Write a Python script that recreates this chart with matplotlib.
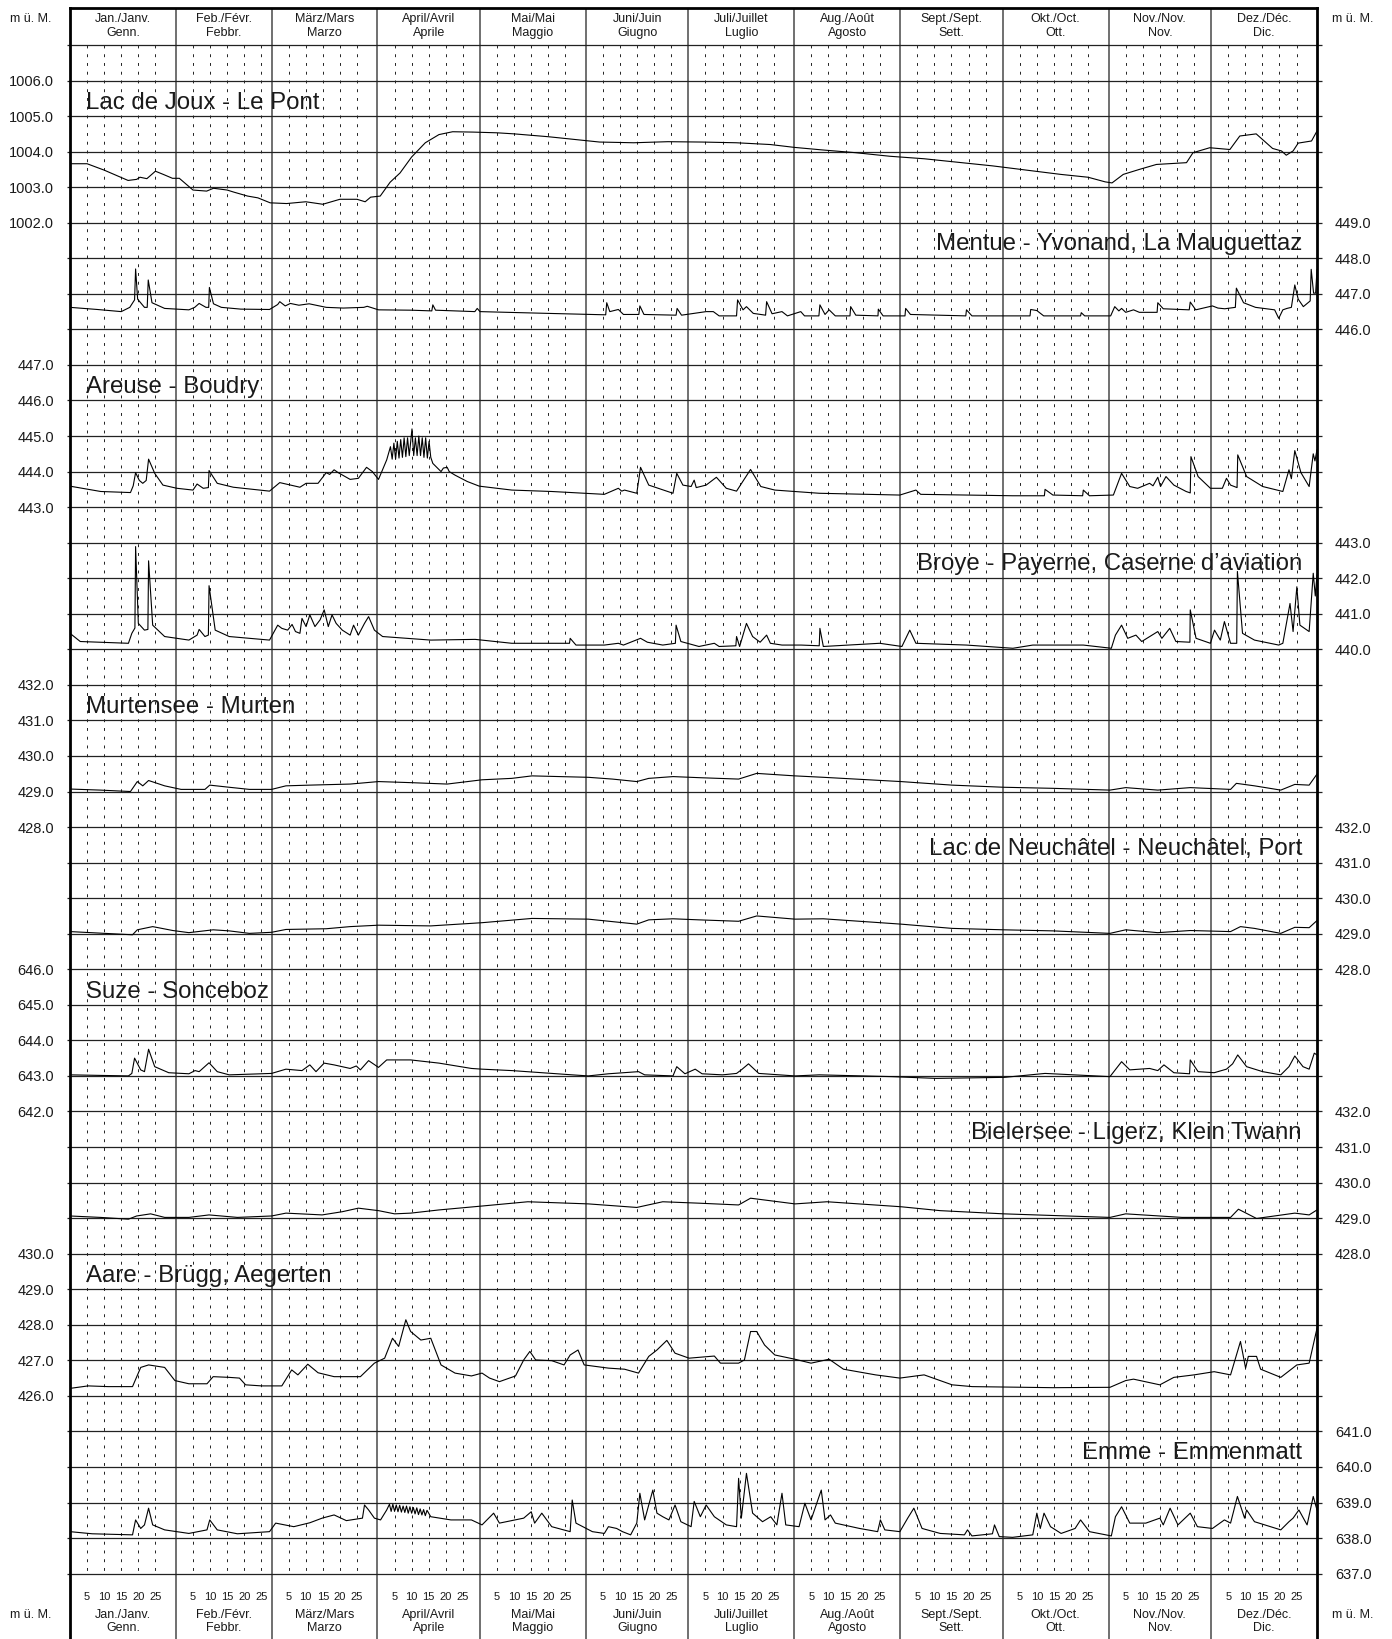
import matplotlib.pyplot as plt

plt.rcParams['font.family'] = ['Liberation Sans', 'DejaVu Sans']

# ---- Daten (Tag im Jahr, Pegel m ü. M.) ----
month_de_fr = ['Jan./Janv.', 'Feb./Févr.', 'März/Mars', 'April/Avril', 'Mai/Mai', 'Juni/Juin',
               'Juli/Juillet', 'Aug./Août', 'Sept./Sept.', 'Okt./Oct.', 'Nov./Nov.', 'Dez./Déc.']
month_it = ['Genn.', 'Febbr.', 'Marzo', 'Aprile', 'Maggio', 'Giugno',
            'Luglio', 'Agosto', 'Sett.', 'Ott.', 'Nov.', 'Dic.']
month_len = [31, 28, 31, 30, 31, 30, 31, 31, 30, 31, 30, 31]
day_ticks = [5, 10, 15, 20, 25]

joux_day = [0, 5, 10, 17, 19.5, 20.5, 22.5, 25, 27.3, 30, 32, 36, 40, 42, 46, 48, 52, 55, 58.6, 63.4,
            69, 74, 79, 84, 86.4, 88, 90.8, 93.7, 96.6, 100, 104, 108, 112, 118, 125, 130, 140, 150,
            155, 165, 175, 185, 195, 205, 212, 220, 230, 240, 250, 260, 270, 280, 290, 298, 303, 305,
            308.3, 313, 318, 326.8, 328.7, 333.6, 339.5, 342.4, 347.2, 352, 354.6, 356, 358, 359.5,
            363.4, 365]
joux_lvl = [1003.66, 1003.66, 1003.48, 1003.19, 1003.22, 1003.28, 1003.24, 1003.45, 1003.36, 1003.25,
            1003.25, 1002.92, 1002.89, 1002.97, 1002.92, 1002.86, 1002.75, 1002.7, 1002.56, 1002.54,
            1002.59, 1002.52, 1002.66, 1002.66, 1002.59, 1002.72, 1002.75, 1003.14, 1003.4, 1003.85,
            1004.25, 1004.48, 1004.56, 1004.55, 1004.53, 1004.5, 1004.42, 1004.32, 1004.27, 1004.25,
            1004.28, 1004.27, 1004.25, 1004.2, 1004.12, 1004.05, 1003.97, 1003.87, 1003.8, 1003.7,
            1003.6, 1003.48, 1003.36, 1003.28, 1003.15, 1003.12, 1003.36, 1003.5, 1003.64, 1003.69,
            1003.97, 1004.11, 1004.06, 1004.44, 1004.5, 1004.09, 1004.02, 1003.9, 1004.02, 1004.24,
            1004.3, 1004.58]

mentue_day = [0, 8, 15, 17.5, 18.9, 19.2, 19.8, 21.8, 22.6, 22.9, 24, 27.7, 34.8, 36.5, 37.8, 39.8,
              40.6, 40.8, 42, 44.3, 50, 58.4, 60.8, 61.4, 63, 64.5, 67, 70, 75, 80, 86, 87, 90.3, 100,
              105.9, 106.2, 107, 118.5, 119.2, 120, 140, 156.8, 157.1, 158, 160.5, 162, 166.5, 166.8,
              168, 177.4, 177.7, 179, 186.2, 188.3, 190, 195.1, 195.4, 197, 198, 200, 203.6, 203.9,
              205.5, 208.4, 210, 213.9, 215, 219.2, 219.5, 221, 222.2, 224, 228.3, 228.5, 230, 236.5,
              236.6, 238, 244.4, 244.6, 246, 262.2, 262.4, 264, 281, 281.2, 283, 285, 295.8, 296, 297,
              304.6, 305.8, 307, 307.8, 309, 311.3, 313, 318.2, 318.4, 320, 327.6, 327.9, 329.5, 334.4,
              336, 338, 341.1, 341.4, 343.5, 347, 352.6, 353.8, 355, 356.2, 357.5, 358.5, 359.5, 361,
              363, 363.3, 364, 364.6, 365]
mentue_lvl = [446.62, 446.56, 446.50, 446.62, 446.83, 447.70, 446.85, 446.62, 446.62, 447.39, 446.75,
              446.59, 446.55, 446.62, 446.73, 446.62, 446.62, 447.18, 446.72, 446.62, 446.57, 446.56,
              446.70, 446.78, 446.66, 446.73, 446.68, 446.72, 446.62, 446.60, 446.62, 446.65, 446.55,
              446.54, 446.52, 446.69, 446.54, 446.50, 446.59, 446.50, 446.45, 446.41, 446.75, 446.50,
              446.56, 446.42, 446.42, 446.66, 446.42, 446.40, 446.59, 446.40, 446.50, 446.50, 446.38,
              446.38, 446.83, 446.55, 446.64, 446.45, 446.40, 446.78, 446.44, 446.50, 446.38, 446.50,
              446.38, 446.38, 446.69, 446.42, 446.55, 446.38, 446.38, 446.64, 446.40, 446.38, 446.57,
              446.38, 446.38, 446.59, 446.42, 446.38, 446.55, 446.38, 446.38, 446.56, 446.53, 446.38,
              446.38, 446.47, 446.38, 446.38, 446.64, 446.52, 446.59, 446.48, 446.55, 446.48, 446.48,
              446.75, 446.58, 446.55, 446.77, 446.55, 446.66, 446.60, 446.58, 446.62, 447.16, 446.75,
              446.62, 446.55, 446.31, 446.55, 446.59, 446.62, 447.25, 446.85, 446.64, 446.80, 447.69,
              447.02, 447.02, 447.67]

areuse_day = [0, 9, 17.7, 18.5, 19.2, 20.3, 21.3, 22.3, 23, 24.8, 27.2, 31.3, 36, 37.2, 39, 40.5, 40.7,
              43.1, 47.8, 58.4, 61.4, 67.3, 69.1, 72.6, 75, 76, 77.3, 78.5, 82, 84.4, 86.8, 88.5, 90.3,
              92.7, 93.8, 94.3, 94.8, 95.3, 95.8, 96.3, 96.8, 97.3, 97.8, 98.3, 98.8, 99.3, 100.1, 100.6,
              101.1, 101.6, 102.1, 102.6, 103.1, 103.6, 104.1, 104.6, 105.1, 105.6, 106.2, 108.6, 109.3,
              110.4, 111, 112.7, 116.3, 119.8, 129.3, 141, 156.4, 160.5, 161.5, 162.3, 165.9, 167,
              169.4, 176.5, 177.6, 179.4, 181.8, 182.7, 183.3, 186.2, 189.2, 192.1, 195.1, 199.2,
              202.2, 206.3, 219.3, 242.9, 247.6, 249, 275.9, 285.2, 285.4, 287.7, 296.4, 296.6, 298.4,
              305.4, 307.8, 310.2, 312.5, 316, 317, 318.4, 319.2, 320.8, 323.1, 326.7, 327.9, 328.1,
              330.2, 333.8, 337.3, 338.5, 339.7, 341.6, 341.8, 344.4, 349.1, 355, 356.8, 357.5, 358.5,
              360.3, 362.7, 363.9, 364.4, 365]
areuse_lvl = [443.59, 443.44, 443.41, 443.60, 443.97, 443.75, 443.67, 443.75, 444.35, 443.95, 443.62,
              443.53, 443.48, 443.65, 443.53, 443.55, 444.03, 443.67, 443.56, 443.45, 443.69, 443.56,
              443.67, 443.67, 443.97, 443.92, 444.05, 443.97, 443.78, 443.81, 444.12, 444.0, 443.78,
              444.33, 444.70, 444.35, 444.80, 444.35, 444.85, 444.38, 444.90, 444.40, 444.95, 444.42,
              444.95, 444.45, 445.20, 444.45, 444.95, 444.45, 445.0, 444.45, 444.95, 444.40, 444.95,
              444.38, 444.85, 444.40, 444.23, 444.0, 444.10, 444.12, 444.0, 443.90, 443.72, 443.59,
              443.48, 443.44, 443.36, 443.53, 443.45, 443.48, 443.39, 444.12, 443.62, 443.39, 443.95,
              443.62, 443.58, 443.76, 443.55, 443.62, 443.84, 443.53, 443.45, 444.06, 443.58, 443.48,
              443.39, 443.34, 443.48, 443.36, 443.32, 443.32, 443.50, 443.34, 443.32, 443.48, 443.32,
              443.34, 443.95, 443.58, 443.53, 443.67, 443.60, 443.84, 443.58, 443.86, 443.62, 443.44,
              443.40, 444.42, 443.86, 443.53, 443.53, 443.81, 443.62, 443.55, 444.47, 443.86, 443.58,
              443.44, 444.05, 443.80, 444.59, 443.97, 443.58, 444.50, 444.30, 444.61]

broye_day = [0, 3, 17.1, 18.1, 19.0, 19.2, 20, 21.8, 22.8, 23, 24.2, 27.7, 34.8, 37.2, 37.8, 39.5, 40.5,
             40.7, 42.5, 46.6, 58.4, 60.8, 62, 63.7, 65, 66, 67.3, 67.9, 69.1, 70.2, 71.7, 73.2, 74.4,
             75.6, 76.7, 77.9, 79.7, 82, 83, 84.4, 86.2, 87.4, 89.1, 91.5, 105.6, 118.6, 129.3, 146.2,
             146.4, 148.1, 156.4, 160.5, 162, 167, 169, 173.5, 177.2, 177.4, 178.8, 184.1, 188.6, 190,
             194.9, 195.1, 196, 198, 199.8, 202, 203.9, 205, 208.4, 214, 219.3, 219.5, 220.5, 237,
             243.5, 245.8, 247.6, 262.4, 276, 281.8, 285.4, 296.6, 304.8, 306, 307.8, 309.6, 312,
             313.7, 318.4, 319.6, 321.9, 323.7, 327.8, 327.9, 329.6, 333.8, 335, 336.7, 337.9, 339.7,
             341.5, 341.7, 343.2, 346.7, 353.8, 355, 357.1, 358, 359.1, 360, 362.7, 363.9, 364.5, 365]
broye_lvl = [440.45, 440.22, 440.17, 440.45, 440.60, 442.89, 440.73, 440.54, 440.56, 442.49, 440.68,
             440.36, 440.26, 440.40, 440.56, 440.36, 440.40, 441.79, 440.54, 440.36, 440.26, 440.68,
             440.59, 440.54, 440.70, 440.50, 440.45, 440.87, 440.64, 440.97, 440.64, 440.83, 441.11,
             440.64, 440.97, 440.73, 440.54, 440.40, 440.68, 440.40, 440.73, 440.92, 440.54, 440.36,
             440.26, 440.28, 440.17, 440.17, 440.31, 440.12, 440.12, 440.17, 440.12, 440.31, 440.20,
             440.12, 440.17, 440.68, 440.22, 440.08, 440.17, 440.08, 440.10, 440.36, 440.08, 440.73,
             440.36, 440.20, 440.40, 440.17, 440.12, 440.12, 440.10, 440.59, 440.08, 440.17, 440.08,
             440.54, 440.17, 440.12, 440.03, 440.12, 440.12, 440.12, 440.03, 440.40, 440.68, 440.31,
             440.40, 440.22, 440.50, 440.31, 440.59, 440.22, 440.20, 441.11, 440.31, 440.17, 440.54,
             440.26, 440.78, 440.17, 440.17, 442.19, 440.45, 440.26, 440.12, 440.17, 441.29, 440.50,
             441.76, 440.68, 440.50, 442.14, 441.50, 442.09]

murten_day = [0, 8.9, 17.7, 19.7, 21.3, 23, 27.7, 32.5, 39.5, 40.9, 46.6, 52.5, 59, 63.2, 70.2, 82, 90.3,
              99.7, 110.4, 120.6, 129.3, 135.2, 151.7, 158.8, 165.9, 169.4, 176.5, 184.1, 195.7, 201,
              212.2, 220.5, 243.2, 258.2, 273.3, 287.7, 304.4, 309, 318.4, 327.9, 339.7, 341.4, 346.7,
              354.4, 358.5, 362.7, 365]
murten_lvl = [429.07, 429.04, 429.0, 429.28, 429.16, 429.31, 429.16, 429.06, 429.06, 429.18, 429.12,
              429.06, 429.06, 429.16, 429.18, 429.21, 429.28, 429.25, 429.21, 429.33, 429.37, 429.44,
              429.40, 429.35, 429.28, 429.37, 429.42, 429.39, 429.35, 429.51, 429.44, 429.40, 429.28,
              429.18, 429.12, 429.09, 429.04, 429.11, 429.04, 429.11, 429.06, 429.23, 429.16, 429.04,
              429.20, 429.18, 429.49]

neuch_day = [0, 18.3, 19.7, 24.2, 30.1, 34.8, 41.9, 46.6, 52.5, 59, 63.2, 75, 82, 90.3, 105.6, 120.6,
             135.2, 151.7, 165.9, 169.4, 176.5, 184.1, 195.7, 201, 212.2, 220.5, 243.2, 258.2, 273.3,
             287.7, 304.4, 309, 318.4, 327.9, 339.7, 342.6, 346.7, 354.4, 358.5, 362.7, 365]
neuch_lvl = [429.06, 428.97, 429.11, 429.20, 429.09, 429.03, 429.11, 429.08, 429.01, 429.04, 429.12,
             429.14, 429.20, 429.24, 429.22, 429.31, 429.43, 429.41, 429.27, 429.39, 429.42, 429.39,
             429.35, 429.50, 429.41, 429.42, 429.27, 429.15, 429.11, 429.08, 429.01, 429.11, 429.03,
             429.09, 429.06, 429.20, 429.15, 429.01, 429.18, 429.17, 429.37]

suze_day = [0, 17.1, 18.1, 18.9, 20.7, 21.8, 23, 24.8, 28.9, 34.8, 36.6, 37.8, 40.7, 43.1, 46.6, 59, 63.2,
            67.9, 70.2, 72, 74.4, 77.3, 82, 83.8, 85, 87.4, 90.3, 92.7, 99.7, 108, 117.5, 120.6, 129.3,
            147, 151.7, 157.6, 166.4, 168.2, 176.5, 177.6, 180, 183, 185, 191, 195.1, 196.5, 198.6,
            201.6, 212.2, 219.3, 240.5, 253.5, 273.6, 285.4, 304.4, 307.8, 310.2, 316, 318.4, 320.2,
            323.1, 327.7, 327.9, 330.2, 334.9, 338.5, 340.3, 341.8, 344.4, 349.1, 354.4, 356.8, 358.5,
            360.9, 362.7, 364.2, 365]
suze_lvl = [643.03, 643.0, 643.07, 643.50, 643.17, 643.12, 643.75, 643.26, 643.09, 643.06, 643.15,
            643.12, 643.37, 643.12, 643.03, 643.07, 643.19, 643.15, 643.31, 643.12, 643.36, 643.31,
            643.21, 643.28, 643.17, 643.43, 643.24, 643.45, 643.45, 643.36, 643.21, 643.19, 643.15,
            643.03, 643.0, 643.06, 643.12, 643.03, 643.0, 643.26, 643.06, 643.19, 643.06, 643.03,
            643.07, 643.17, 643.34, 643.07, 643.0, 643.03, 642.98, 642.93, 642.96, 643.07, 642.98,
            643.40, 643.17, 643.21, 643.15, 643.31, 643.09, 643.06, 643.45, 643.12, 643.09, 643.19,
            643.34, 643.59, 643.26, 643.12, 643.03, 643.26, 643.56, 643.26, 643.19, 643.64, 643.59]

biel_day = [0, 8.9, 17.1, 19.5, 23.6, 27.7, 34.8, 40.7, 49, 59, 63.2, 73.8, 79.7, 84.4, 90.3, 95, 99.7,
            108, 120.6, 134, 151.7, 165.9, 173.5, 184.1, 195.7, 199.2, 212.2, 221.6, 243.2, 254.7,
            273.3, 304.4, 309, 325.5, 339.7, 342, 347.3, 358.5, 362.7, 365]
biel_lvl = [429.06, 429.02, 428.97, 429.06, 429.12, 429.02, 429.02, 429.09, 429.02, 429.06, 429.14,
            429.09, 429.18, 429.28, 429.21, 429.12, 429.14, 429.23, 429.34, 429.46, 429.40, 429.30,
            429.46, 429.42, 429.37, 429.56, 429.40, 429.46, 429.32, 429.21, 429.12, 429.02, 429.12,
            429.02, 429.02, 429.25, 428.99, 429.14, 429.09, 429.23]

aare_day = [0, 5.3, 11.2, 18.3, 20.7, 23, 27.7, 30.7, 34.8, 40.1, 41.9, 46.6, 49.6, 51.4, 56.1, 62, 64.9,
            66.7, 69.6, 72.6, 77.3, 85, 89.1, 92.1, 94.4, 96.2, 98.3, 99.7, 102.7, 105.6, 108.6, 112.7,
            117.5, 120.6, 122.8, 125.7, 130.4, 132.8, 134.6, 136.3, 141, 144.6, 146.4, 148.7, 150.5,
            157.6, 162.3, 166.4, 169.4, 171.8, 174.7, 177.1, 181.2, 188.6, 190.4, 195.7, 197.4, 199.2,
            201, 203.3, 206.3, 212.2, 216.9, 222.2, 226.4, 235.8, 242.9, 250, 258.2, 264.1, 287.7,
            304.4, 309, 311.3, 319, 323.1, 329, 334.9, 339.7, 342.6, 344.1, 344.9, 347.3, 348.5, 354.4,
            359.1, 362.7, 365]
aare_lvl = [426.21, 426.28, 426.26, 426.26, 426.80, 426.87, 426.80, 426.43, 426.34, 426.34, 426.54,
            426.52, 426.50, 426.31, 426.28, 426.28, 426.73, 426.59, 426.89, 426.65, 426.54, 426.54,
            426.92, 427.06, 427.62, 427.39, 428.14, 427.81, 427.57, 427.62, 426.87, 426.64, 426.56,
            426.64, 426.50, 426.40, 426.56, 427.01, 427.25, 427.01, 426.99, 426.87, 427.15, 427.29,
            426.87, 426.78, 426.75, 426.64, 427.11, 427.29, 427.56, 427.20, 427.06, 427.12, 426.92,
            426.92, 427.01, 427.81, 427.81, 427.43, 427.15, 427.03, 426.92, 427.03, 426.75, 426.59,
            426.50, 426.59, 426.31, 426.26, 426.23, 426.24, 426.43, 426.47, 426.31, 426.52, 426.59,
            426.68, 426.59, 427.53, 426.78, 427.11, 427.11, 426.75, 426.52, 426.87, 426.92, 427.90]

emme_day = [0, 6.5, 18.3, 19.2, 20.7, 21.8, 23, 24.2, 27.7, 34.8, 40.1, 40.9, 43.1, 49, 58.4, 60.2, 65.5,
            70.2, 73.8, 77.3, 80.9, 85.6, 86.2, 87.4, 89.1, 90.9, 92.7, 93.5, 94, 94.5, 95, 95.5, 96,
            96.5, 97, 97.5, 98, 98.5, 99, 99.5, 100, 100.5, 101, 101.5, 102, 102.5, 103, 103.5, 104,
            104.5, 105.6, 111.5, 117.5, 120.6, 124, 125.7, 132.8, 135, 136, 138.1, 141, 146.4, 147,
            148.1, 152.9, 156.4, 157.6, 160, 161.7, 164.1, 165.9, 166.8, 168.2, 170.6, 171.8, 173.5,
            175.3, 177.1, 178.8, 181.8, 182.7, 184.5, 186.2, 188.6, 192.1, 195.1, 195.7, 196.5, 198,
            199.8, 202.7, 205.1, 206.9, 208.4, 209.5, 213.4, 215.1, 216.9, 219.9, 221, 222.6, 224,
            231.1, 236.4, 237.2, 238.5, 242.9, 245.2, 247, 249.4, 254.7, 261.8, 262.7, 264, 270,
            270.6, 272, 275.9, 281.8, 283, 284, 285.1, 287, 290.1, 294.2, 295.8, 298.4, 304.8, 306,
            307.8, 310.2, 314.9, 319, 320, 322, 324.3, 327.9, 330, 334.4, 337.9, 339.7, 341.7, 343.8,
            344.4, 346.7, 354.4, 356.8, 358, 359.7, 362.1, 363.9, 365]
emme_lvl = [638.18, 638.12, 638.09, 638.51, 638.27, 638.37, 638.84, 638.37, 638.23, 638.13, 638.23,
            638.51, 638.23, 638.12, 638.18, 638.42, 638.32, 638.43, 638.56, 638.65, 638.49, 638.56,
            638.93, 638.79, 638.56, 638.51, 638.79, 638.95, 638.75, 638.95, 638.75, 638.93, 638.74,
            638.92, 638.73, 638.90, 638.72, 638.90, 638.70, 638.88, 638.70, 638.86, 638.68, 638.85,
            638.66, 638.82, 638.65, 638.80, 638.63, 638.78, 638.60, 638.51, 638.51, 638.37, 638.70,
            638.42, 638.56, 638.74, 638.42, 638.70, 638.32, 638.18, 639.07, 638.42, 638.18, 638.13,
            638.32, 638.27, 638.18, 638.09, 638.42, 639.26, 638.51, 639.35, 638.70, 638.60, 638.51,
            638.93, 638.46, 638.32, 639.03, 638.60, 638.93, 638.60, 638.37, 638.32, 639.68, 638.56,
            639.82, 638.70, 638.46, 638.60, 638.37, 639.26, 638.37, 638.32, 638.98, 638.51, 639.35,
            638.51, 638.65, 638.42, 638.27, 638.18, 638.51, 638.23, 638.18, 638.56, 638.84, 638.27,
            638.13, 638.09, 638.23, 638.06, 638.12, 638.37, 638.04, 638.02, 638.09, 638.70, 638.27,
            638.70, 638.32, 638.13, 638.27, 638.51, 638.18, 638.06, 638.60, 638.88, 638.42, 638.42,
            638.56, 638.37, 638.84, 638.37, 638.70, 638.32, 638.27, 638.51, 638.42, 639.17, 638.56,
            638.79, 638.46, 638.23, 638.46, 638.56, 638.79, 638.37, 639.17, 638.79]

# name, days, levels, side of scale, top value, grid row of top value, number of labels
stations = [
    ('Lac de Joux - Le Pont', joux_day, joux_lvl, 'left', 1006, 1, 5),
    ('Mentue - Yvonand, La Mauguettaz', mentue_day, mentue_lvl, 'right', 449, 5, 4),
    ('Areuse - Boudry', areuse_day, areuse_lvl, 'left', 447, 9, 5),
    ('Broye - Payerne, Caserne d\u2019aviation', broye_day, broye_lvl, 'right', 443, 14, 4),
    ('Murtensee - Murten', murten_day, murten_lvl, 'left', 432, 18, 5),
    ('Lac de Neuchâtel - Neuchâtel, Port', neuch_day, neuch_lvl, 'right', 432, 22, 5),
    ('Suze - Sonceboz', suze_day, suze_lvl, 'left', 646, 26, 5),
    ('Bielersee - Ligerz, Klein Twann', biel_day, biel_lvl, 'right', 432, 30, 5),
    ('Aare - Brügg, Aegerten', aare_day, aare_lvl, 'left', 430, 34, 5),
    ('Emme - Emmenmatt', emme_day, emme_lvl, 'right', 641, 39, 5),
]

# ---- Layout (Pixel) ----
W, H = 1392, 1639
X0, X1 = 70, 1317
Y_TOP, Y_HDR, Y_BOT = 8, 45, 1573.6
NROWS = 43
ROW = (Y_BOT - Y_HDR) / NROWS
TXT = '#1a1a1a'

fig = plt.figure(figsize=(W / 100, H / 100), dpi=100)

month_start = [0]
for n in month_len:
    month_start.append(month_start[-1] + n)

# Hintergrund-Raster (Einheit: Rasterzeilen)
bg = fig.add_axes([X0 / W, 0, (X1 - X0) / W, 1 - Y_TOP / H])
bg.set_xlim(0, 365)
bg.set_ylim((H - Y_HDR) / ROW, (Y_TOP - Y_HDR) / ROW)
bg.set_xticks([])
bg.set_yticks([])
for s in ['left', 'right', 'top']:
    bg.spines[s].set_linewidth(2)
bg.spines['bottom'].set_visible(False)

dots = [m + d for m in month_start[:-1] for d in day_ticks]
bg.vlines(dots, 0, NROWS, colors='#222222', linewidth=0.7, linestyles=(0, (3, 6)))
bg.vlines(month_start[1:-1], (Y_TOP - Y_HDR) / ROW, (H - Y_HDR) / ROW, colors='#707070', linewidth=1.4)
bg.hlines(range(NROWS + 1), -0.9, 366.4, colors='#222222', linewidth=0.9, clip_on=False)

for i in range(12):
    mid = month_start[i] + month_len[i] / 2
    for r_de, r_it in [(-0.73, -0.34), (44.17, 44.53)]:
        bg.text(mid, r_de, month_de_fr[i], ha='center', va='center', fontsize=9, color=TXT)
        bg.text(mid, r_it, month_it[i], ha='center', va='center', fontsize=9, color=TXT)
    for d in day_ticks:
        bg.text(month_start[i] + d, 43.66, str(d), ha='center', va='center', fontsize=8, color=TXT)

for xp in [31, 1353]:
    fig.text(xp / W, 1 - 19 / H, 'm ü. M.', ha='center', va='center', fontsize=9, color=TXT)
    fig.text(xp / W, 1 - 1615 / H, 'm ü. M.', ha='center', va='center', fontsize=9, color=TXT)

# Stationen: eigene Achse je Ganglinie, gleiche Fläche wie das Raster
for name, days, lvl, side, vtop, rtop, nlab in stations:
    ax = fig.add_axes([X0 / W, 1 - Y_BOT / H, (X1 - X0) / W, (Y_BOT - Y_HDR) / H])
    ax.patch.set_visible(False)
    ax.set_xlim(0, 365)
    ax.set_ylim(vtop - (NROWS - rtop), vtop + rtop)
    for s in ax.spines.values():
        s.set_visible(False)
    ax.set_xticks([])
    ticks = [vtop - k for k in range(nlab)]
    ax.set_yticks(ticks)
    ax.set_yticklabels([f'{t:.1f}' for t in ticks])
    if side == 'right':
        ax.yaxis.tick_right()
        ax.tick_params(axis='y', length=0, pad=13, labelsize=10.5, labelcolor=TXT)
        bg.text(360.6, rtop + 0.78, name, ha='right', va='baseline', fontsize=17.3, color=TXT)
    else:
        ax.tick_params(axis='y', length=0, pad=11.5, labelsize=10.5, labelcolor=TXT)
        bg.text(4.7, rtop + 0.8, name, ha='left', va='baseline', fontsize=17.3, color=TXT)
    ax.plot(days, lvl, color='black', linewidth=0.8)

fig.savefig('out.png', dpi=100)
